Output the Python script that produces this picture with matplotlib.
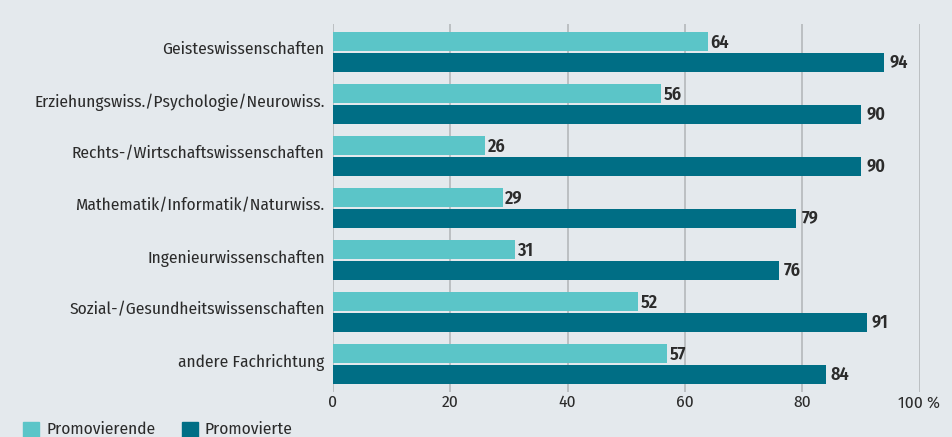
import matplotlib.pyplot as plt
import matplotlib.transforms as mtransforms
import numpy as np

# Fachrichtungen und Anteile (%)
categories = [
    'Geisteswissenschaften',
    'Erziehungswiss./Psychologie/Neurowiss.',
    'Rechts-/Wirtschaftswissenschaften',
    'Mathematik/Informatik/Naturwiss.',
    'Ingenieurwissenschaften',
    'Sozial-/Gesundheitswissenschaften',
    'andere Fachrichtung',
]
promovierende = [64, 56, 26, 29, 31, 52, 57]
promovierte = [94, 90, 90, 79, 76, 91, 84]
xticks = [0, 20, 40, 60, 80, 100]
xtick_labels = ['0', '20', '40', '60', '80', '100 %']

bg = '#e4e9ed'
light = '#5bc5c8'
dark = '#006e85'
text_color = '#2b2b2b'

plt.rcParams['font.family'] = ['Fira Sans Condensed', 'DejaVu Sans']

fig = plt.figure(figsize=(9.52, 4.37), dpi=100, facecolor=bg)
W, H = 952, 437
ax = fig.add_axes([333 / W, 1 - 392 / H, (919.5 - 333) / W, (392 - 24) / H])
ax.set_facecolor(bg)

y = np.arange(len(categories))
h = 0.36
ax.barh(y - 0.205, promovierende, height=h, color=light, zorder=3)
ax.barh(y + 0.2, promovierte, height=h, color=dark, zorder=3)

for yi, v in zip(y, promovierende):
    ax.text(v + 0.4, yi - 0.17, str(v), va='center', ha='left',
            fontsize=13, fontweight='semibold', color=text_color)
for yi, v in zip(y, promovierte):
    ax.text(v + 0.9, yi + 0.2, str(v), va='center', ha='left',
            fontsize=13, fontweight='semibold', color=text_color)

ax.set_xlim(0, 100)
ax.set_ylim(6.538, -0.538)
ax.set_xticks(xticks)
ax.set_xticklabels(xtick_labels)
ax.set_yticks(y)
ax.set_yticklabels(categories)
ax.tick_params(axis='both', length=0, labelsize=12.5, colors=text_color)
ax.tick_params(axis='y', pad=6)
ax.tick_params(axis='x', pad=2)
ax.grid(axis='x', color='#b4b8bb', linewidth=1.2, zorder=0)
for s in ax.spines.values():
    s.set_visible(False)

# Kategorienamen etwas oberhalb der Gruppenmitte
shift = mtransforms.ScaledTranslation(0, 4 / 100, fig.dpi_scale_trans)
for lbl in ax.get_yticklabels():
    lbl.set_transform(lbl.get_transform() + shift)

# Legende unten links
fig.patches.append(plt.Rectangle((23 / W, 0), 16 / W, 15 / H, transform=fig.transFigure,
                                 color=light, zorder=5))
fig.text(46 / W, 0, 'Promovierende', fontsize=12.5, color=text_color, va='bottom')
fig.patches.append(plt.Rectangle((182 / W, 0), 16 / W, 15 / H, transform=fig.transFigure,
                                 color=dark, zorder=5))
fig.text(205 / W, 0, 'Promovierte', fontsize=12.5, color=text_color, va='bottom')

fig.savefig('out.png', dpi=100, facecolor=bg)
